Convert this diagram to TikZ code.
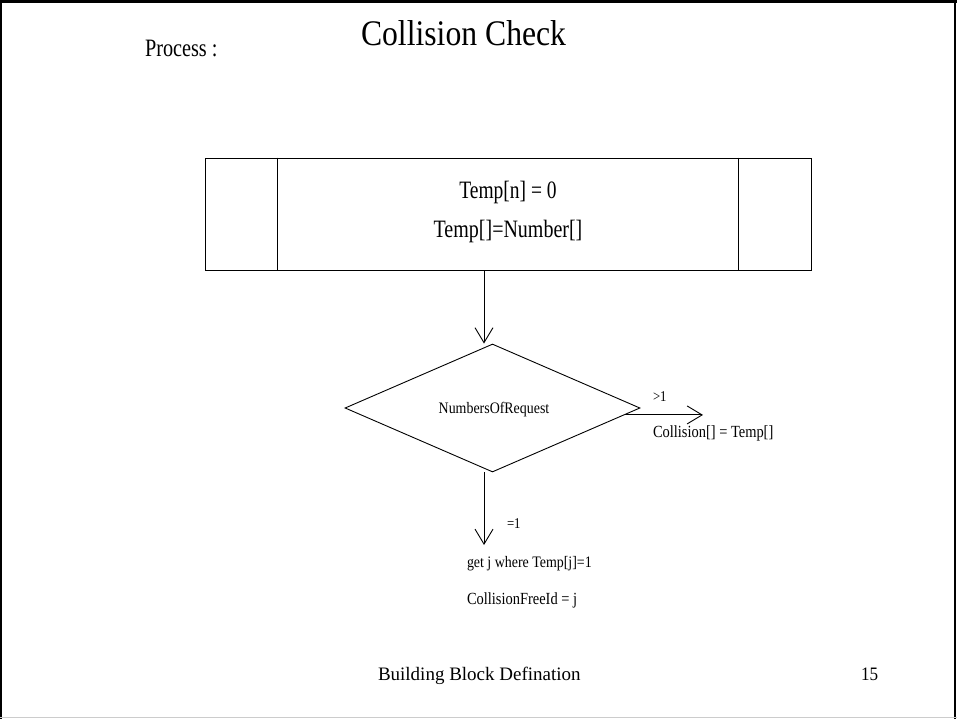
\documentclass[tikz,border=0pt]{standalone}
\usepackage{fontspec}
\usepackage{graphicx}
\setmainfont{Liberation Serif}
\usetikzlibrary{shapes.geometric,arrows.meta}
\newcommand{\sxr}[2]{\scalebox{#1}[1]{#2}}
\begin{document}
\begin{tikzpicture}[x=1pt,y=-1pt,
  txt/.style={inner sep=0pt,outer sep=0pt},
  arr/.style={line width=0.9pt,-{Straight Barb[length=15pt,width=18pt,line width=0.9pt]}},
  blk/.style={draw,line width=0.9pt,rectangle,inner sep=0pt,minimum width=606pt,minimum height=112pt},
  dec/.style={draw,line width=0.9pt,diamond,inner sep=0pt,minimum width=295pt,minimum height=128pt}]
\useasboundingbox (0,0) rectangle (957,719);
% slide frame
\draw[line width=3pt] (0,1.5) -- (957,1.5);
\draw[line width=1.5pt] (1,0) -- (1,719);
\draw[line width=1.5pt] (955,0) -- (955,719);
\draw[line width=1pt,gray!40] (0,717.5) -- (957,717.5);
% titles
\node[txt,anchor=base west,font=\fontsize{25}{25}\selectfont] (proc) at (145,57) {\sxr{0.81}{Process :}};
\node[txt,anchor=base west,font=\fontsize{36}{36}\selectfont] (title) at (361,46) {\sxr{0.88}{Collision Check}};
% process block
\node[blk] (box) at (508,214) {};
\draw[line width=0.9pt] ([xshift=73pt]box.north west) -- ([xshift=73pt]box.south west);
\draw[line width=0.9pt] ([xshift=-73pt]box.north east) -- ([xshift=-73pt]box.south east);
\node[txt,anchor=base,font=\fontsize{25}{25}\selectfont] (l1) at (508,199) {\sxr{0.78}{Temp[n] = 0}};
\node[txt,anchor=base,font=\fontsize{25}{25}\selectfont] (l2) at (508,237) {\sxr{0.8}{Temp[]=Number[]}};
% decision
\node[dec] (dia) at (492.5,408) {};
\node[txt,anchor=base,font=\fontsize{16}{16}\selectfont] (dtext) at (494,413) {\sxr{0.87}{NumbersOfRequest}};
% connectors
\coordinate (ax) at (484,0);
\coordinate (t2) at (484,545);
\coordinate (t3) at (703,416);
\draw[arr] (box.south -| ax) -- (dia.north -| ax);
\draw[arr] (dia.south -| ax) -- (t2);
\draw[arr] (dia.-3.55) -- (dia.-3.55 -| t3);
% labels
\node[txt,anchor=base west,font=\fontsize{15}{15}\selectfont] (gt) at (653,401) {\sxr{0.85}{>1}};
\node[txt,anchor=base west,font=\fontsize{17}{17}\selectfont] (coll) at (653,437) {\sxr{0.85}{Collision[] = Temp[]}};
\node[txt,anchor=base west,font=\fontsize{15}{15}\selectfont] (eq) at (507,528) {\sxr{0.85}{=1}};
\node[txt,anchor=base west,font=\fontsize{16}{16}\selectfont] (getj) at (467,567) {\sxr{0.87}{get j where Temp[j]=1}};
\node[txt,anchor=base west,font=\fontsize{17}{17}\selectfont] (cfid) at (467,604) {\sxr{0.85}{CollisionFreeId = j}};
% footer
\node[txt,anchor=base west,font=\fontsize{19}{19}\selectfont] (foot) at (378,680) {Building Block Defination};
\node[txt,anchor=base west,font=\fontsize{19}{19}\selectfont] (pg) at (861,680) {\sxr{0.9}{15}};
\end{tikzpicture}
\end{document}
